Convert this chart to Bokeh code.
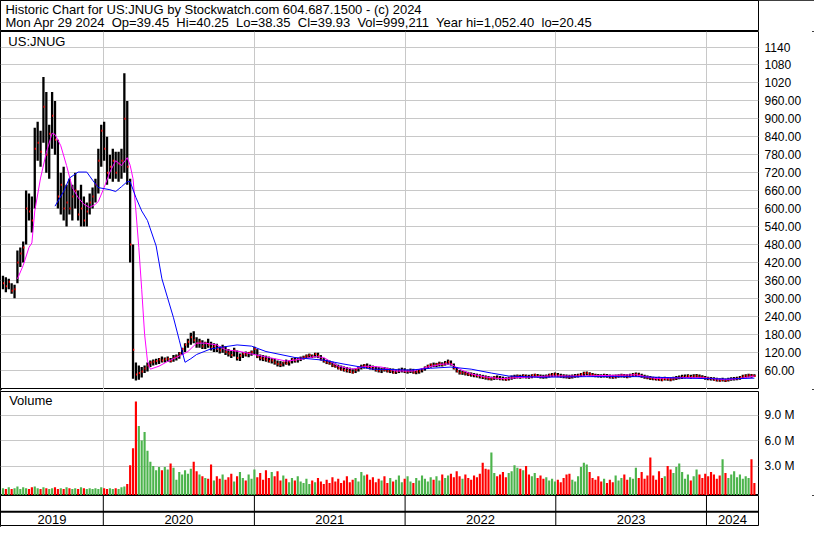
import pandas as pd
from bokeh.plotting import figure
from bokeh.layouts import column
from bokeh.models import Range1d, FixedTicker, Label, Span
from bokeh.embed import file_html
from bokeh.resources import INLINE
from bokeh.core.properties import value

# ---------------- data ----------------
title_line1 = "Historic Chart for US:JNUG by Stockwatch.com 604.687.1500 - (c) 2024"
title_line2 = "Mon Apr 29 2024\u00a0 Op=39.45\u00a0 Hi=40.25\u00a0 Lo=38.35\u00a0 Cl=39.93\u00a0 Vol=999,211\u00a0 Year hi=1,052.40\u00a0 lo=20.45"
symbol = "US:JNUG"
volume_title = "Volume"

first_week = "2019-05-03"   # weekly bars

high = [
    375, 370, 365, 350, 345, 460, 470, 490, 660, 650,
    640, 870, 890, 860, 1040, 990, 880, 990, 960, 830,
    720, 740, 680, 700, 680, 720, 660, 680, 640, 620,
    650, 670, 700, 800, 880, 890, 840, 780, 800, 790,
    790, 800, 1052, 960, 700, 480, 85, 75, 70, 75,
    85, 92, 95, 98, 100, 105, 102, 105, 100, 110,
    112, 120, 135, 150, 165, 185, 190, 170, 165, 160,
    155, 165, 155, 150, 148, 140, 145, 140, 130, 125,
    135, 125, 115, 120, 122, 120, 125, 138, 130, 112,
    110, 108, 105, 100, 98, 92, 90, 88, 95, 92,
    100, 102, 100, 105, 108, 112, 115, 112, 118, 118,
    110, 100, 95, 92, 88, 82, 78, 75, 72, 70,
    68, 65, 66, 72, 78, 80, 82, 78, 75, 72,
    70, 68, 70, 68, 66, 65, 62, 65, 68, 66,
    62, 65, 64, 60, 62, 66, 72, 78, 82, 85,
    84, 88, 86, 90, 95, 92, 82, 70, 60, 58,
    56, 54, 52, 50, 48, 46, 44, 42, 40, 38,
    40, 42, 40, 38, 36, 38, 42, 44, 45, 44,
    46, 45, 44, 46, 48, 47, 45, 44, 45, 48,
    50, 52, 50, 48, 46, 45, 44, 45, 47, 48,
    50, 54, 55, 53, 50, 48, 47, 46, 48, 47,
    45, 44, 45, 46, 48, 47, 46, 48, 50, 52,
    51, 48, 44, 42, 40, 38, 37, 38, 36, 38,
    37, 36, 38, 40, 42, 44, 45, 46, 44, 46,
    47, 45, 43, 40, 38, 37, 36, 34, 33, 34,
    32, 34, 36, 37, 38, 40, 44, 46, 48, 47, 46,
]
low = [
    330, 320, 330, 315, 300, 350, 405, 420, 480, 560,
    520, 600, 760, 740, 820, 720, 700, 800, 780, 600,
    580, 560, 540, 580, 560, 600, 560, 540, 540, 540,
    580, 600, 620, 650, 740, 760, 680, 700, 690, 700,
    690, 700, 720, 680, 420, 31, 25, 28, 35, 50,
    55, 70, 75, 78, 80, 85, 85, 88, 85, 88,
    92, 98, 110, 120, 135, 145, 150, 135, 135, 130,
    130, 135, 125, 120, 120, 115, 118, 110, 105, 100,
    105, 92, 90, 100, 105, 103, 108, 112, 100, 92,
    90, 88, 85, 82, 78, 72, 70, 72, 78, 75,
    82, 85, 85, 90, 95, 98, 100, 100, 102, 100,
    92, 85, 80, 78, 70, 68, 62, 58, 55, 52,
    50, 48, 50, 55, 62, 65, 65, 62, 60, 55,
    52, 50, 55, 52, 50, 48, 47, 50, 52, 50,
    48, 50, 48, 46, 48, 52, 58, 64, 68, 70,
    70, 72, 72, 75, 78, 75, 62, 52, 45, 44,
    42, 40, 38, 36, 35, 32, 30, 28, 26, 25,
    27, 28, 26, 25, 24, 25, 28, 30, 32, 31,
    33, 32, 31, 33, 35, 34, 32, 31, 32, 35,
    37, 38, 36, 34, 33, 32, 30, 32, 34, 35,
    37, 40, 42, 40, 38, 36, 35, 34, 35, 34,
    32, 31, 32, 34, 35, 34, 33, 35, 37, 38,
    37, 34, 31, 29, 27, 26, 25, 24, 23, 25,
    24, 23, 25, 27, 29, 30, 32, 33, 31, 33,
    34, 32, 30, 28, 26, 25, 24, 22, 21, 22,
    20, 22, 24, 25, 26, 28, 31, 33, 35, 34, 38,
]
close = [
    350, 340, 355, 325, 330, 420, 450, 470, 600, 590,
    560, 800, 820, 790, 940, 780, 850, 910, 830, 640,
    680, 600, 620, 600, 640, 660, 580, 600, 560, 590,
    620, 640, 680, 760, 860, 800, 720, 740, 760, 720,
    750, 760, 900, 740, 480, 128, 45, 50, 55, 65,
    75, 85, 88, 90, 95, 92, 96, 98, 90, 100,
    105, 115, 130, 145, 155, 170, 160, 150, 155, 140,
    150, 145, 135, 140, 130, 125, 135, 120, 115, 110,
    125, 100, 108, 115, 112, 118, 120, 130, 105, 100,
    98, 95, 90, 92, 85, 80, 78, 85, 82, 88,
    95, 92, 98, 100, 104, 108, 110, 106, 114, 108,
    95, 90, 85, 82, 75, 72, 66, 62, 60, 58,
    55, 52, 60, 68, 72, 75, 70, 68, 65, 60,
    58, 62, 60, 56, 58, 52, 55, 58, 60, 55,
    56, 58, 52, 54, 56, 62, 68, 74, 78, 76,
    80, 82, 78, 84, 88, 80, 66, 56, 50, 52,
    48, 45, 44, 42, 40, 38, 36, 34, 30, 32,
    35, 33, 31, 30, 28, 32, 36, 38, 40, 38,
    41, 39, 38, 42, 44, 40, 38, 37, 40, 44,
    45, 46, 42, 40, 39, 37, 36, 38, 41, 43,
    46, 49, 50, 47, 44, 42, 41, 40, 42, 39,
    37, 36, 38, 41, 43, 40, 38, 42, 45, 46,
    44, 40, 36, 34, 32, 30, 29, 28, 27, 30,
    29, 28, 31, 33, 35, 37, 38, 40, 37, 39,
    41, 38, 36, 33, 31, 30, 28, 26, 25, 27,
    24, 28, 30, 31, 32, 35, 39, 41, 43, 42, 40,
]
volume_m = [
    0.4, 0.3, 0.5, 0.3, 0.4, 0.6, 0.3, 0.5, 0.4, 0.3,
    0.5, 0.6, 0.4, 0.3, 0.5, 0.4, 0.3, 0.4, 0.5, 0.3,
    0.4, 0.3, 0.5, 0.4, 0.3, 0.4, 0.3, 0.5, 0.4, 0.3,
    0.4, 0.3, 0.4, 0.3, 0.5, 0.4, 0.3, 0.4, 0.3, 0.4,
    0.3, 0.5, 0.6, 0.9, 3.1, 5.1, 10.6, 7.7, 6.0, 7.0,
    4.8, 3.5, 3.0, 2.5, 2.9, 2.5, 2.9, 2.6, 3.3, 2.8,
    1.4, 2.3, 2.0, 2.5, 2.1, 2.7, 3.5, 2.4, 2.0, 1.8,
    1.6, 1.5, 3.2, 1.3, 1.8, 1.5, 2.0, 1.4, 1.7, 2.1,
    1.2, 1.8, 2.3, 1.6, 1.3, 2.0, 1.5, 2.6, 1.7, 2.2,
    1.4, 2.5, 1.6, 2.3, 1.8, 2.4, 1.3, 1.9, 1.5, 1.1,
    1.6, 1.3, 1.8, 1.2, 1.0, 1.5, 0.9, 1.3, 1.1, 1.6,
    1.2, 0.9, 1.4, 1.0, 1.7, 1.2, 1.5, 1.0, 1.3, 1.8,
    1.1, 1.4, 1.6, 1.2, 2.3, 1.9, 2.0, 1.4, 1.7, 1.1,
    1.5, 1.3, 1.8, 1.0, 1.6, 1.2, 1.4, 1.9, 1.1, 1.5,
    1.8, 1.2, 1.0, 1.6, 1.3, 1.9, 1.5, 1.2, 1.7, 1.4,
    1.8, 1.3, 2.0, 1.6, 1.9, 2.1, 1.7, 2.4, 1.8, 1.5,
    2.0, 1.6, 1.4, 1.9, 1.7, 2.1, 3.4, 2.7, 2.6, 4.6,
    2.2, 1.8, 2.0, 2.3, 1.7, 2.2, 2.4, 3.1, 2.8, 2.7,
    2.5, 3.0, 2.0, 1.8, 2.2, 1.6, 1.9, 1.5, 1.7, 1.3,
    1.5, 1.2, 1.4, 1.1, 1.6, 2.0, 2.1, 1.4, 1.2, 1.8,
    2.9, 3.4, 3.2, 2.3, 1.6, 1.4, 1.8, 1.2, 1.5, 1.0,
    1.4, 1.1, 1.9, 1.3, 1.6, 2.0, 1.4, 1.7, 1.5, 2.8,
    1.6, 2.3, 1.5, 1.9, 4.0, 1.9, 1.4, 2.4, 1.6, 1.8,
    3.0, 2.6, 2.2, 2.9, 3.3, 2.3, 1.5, 2.0, 1.3, 1.8,
    2.6, 2.0, 1.6, 2.1, 1.8, 2.3, 2.0, 1.5, 1.9, 3.8,
    2.2, 1.6, 2.0, 2.4, 1.7, 2.0, 1.5, 1.8, 1.6, 3.8, 1.0,
]

# moving averages (week index, value)
ma_short_week = [5, 7, 9, 10, 11, 13, 15, 17, 18, 20, 22, 24, 26, 28, 30, 32, 33, 35, 37, 39,
                 41, 43, 44, 45, 46, 47, 48, 49, 50, 51, 54, 57, 60, 64, 67, 70, 74, 77, 82, 87,
                 92, 98, 103, 108, 111, 116, 121, 126, 131, 136, 142, 147, 152, 155, 158, 162,
                 167, 172, 179, 189, 199, 209, 219, 226, 236, 243, 250, 255, 260]
ma_short_val = [365, 410, 470, 485, 592, 702, 787, 852, 848, 810, 744, 670, 637, 614, 604, 614, 624, 670, 722, 760,
                744, 770, 745, 700, 592, 470, 330, 180, 90, 63, 73, 89, 102, 122, 150, 150, 144, 128, 122, 112,
                102, 90, 96, 105, 102, 73, 63, 73, 70, 57, 57, 70, 80, 80, 63, 47,
                37, 31, 35, 40, 40, 42, 44, 32, 35, 34, 28, 32, 40]
ma_long_week = [18, 21, 23, 26, 29, 31, 33, 37, 39, 41, 43, 44, 46, 48, 50, 53, 55, 57, 59, 61,
                62, 63, 65, 67, 72, 81, 86, 91, 101, 111, 118, 128, 141, 148, 155, 162, 169, 175,
                186, 202, 219, 236, 250, 260]
ma_long_val = [608, 657, 702, 722, 722, 695, 670, 663, 657, 673, 690, 690, 637, 592, 560, 475, 365, 300, 235, 160,
               122, 86, 98, 112, 131, 144, 140, 122, 102, 93, 80, 63, 60, 66, 70, 63, 50, 40,
               36, 38, 38, 33, 30, 33]

price_ticks = [60, 120, 180, 240, 300, 360, 420, 480, 540, 600, 660, 720, 780, 840, 900, 960, 1020, 1080, 1140]
price_tick_labels = ["60.00", "120.00", "180.00", "240.00", "300.00", "360.00", "420.00", "480.00", "540.00",
                     "600.00", "660.00", "720.00", "780.00", "840.00", "900.00", "960.00", "1020", "1080", "1140"]
vol_ticks = [3, 6, 9]
vol_tick_labels = ["3.0 M", "6.0 M", "9.0 M"]
years = ["2019", "2020", "2021", "2022", "2023", "2024"]
year_starts = ["2020-01-01", "2021-01-01", "2022-01-01", "2023-01-01", "2024-01-01"]

# ---------------- derived ----------------
dates = pd.date_range(first_week, periods=len(close), freq="7D")
DAY = 86400000.0
x_start = pd.Timestamp("2019-04-27")
x_end = pd.Timestamp("2024-05-06")
ms = lambda t: pd.Timestamp(t).value / 1e6
bound_ms = [ms(b) for b in year_starts]
edges = [ms(x_start)] + bound_ms + [ms(x_end)]
year_mid = [(edges[k] + edges[k + 1]) / 2 for k in range(len(years))]

vol_colors = ["#4cb44c"] + ["#4cb44c" if close[k] >= close[k - 1] else "#ff0000" for k in range(1, len(close))]

FONT = "Liberation Sans"
GRID = "#c8c8c8"
W = 814
RB = 56
xr = Range1d(x_start, x_end)


def style_right_axis(ax):
    ax.axis_line_color = None
    ax.major_tick_in = 0
    ax.major_tick_out = 0
    ax.minor_tick_in = 0
    ax.minor_tick_out = 0
    ax.major_label_standoff = 6
    ax.major_label_text_font = FONT
    ax.major_label_text_font_size = "12px"
    ax.major_label_text_color = "black"


# ---------------- header ----------------
hdr = figure(width=W, height=31, x_range=Range1d(0, 1), y_range=Range1d(0, 1),
             x_axis_location=None, y_axis_location=None, toolbar_location=None,
             output_backend="svg", min_border=0)
hdr.grid.visible = False
hdr.outline_line_color = "black"
hdr.add_layout(Label(x=0.0065, y=0.72, text=title_line1, text_font=FONT, text_font_size="13px",
                     text_baseline="middle", text_color="black"))
hdr.add_layout(Label(x=0.0065, y=0.29, text=title_line2, text_font=FONT, text_font_size="13px",
                     text_baseline="middle", text_color="black"))

# ---------------- price ----------------
p_lo, p_hi = -5, 1192
p = figure(width=W, height=358, x_range=xr, y_range=Range1d(p_lo, p_hi), x_axis_type="datetime",
           x_axis_location=None, y_axis_location="right", toolbar_location=None, output_backend="svg",
           min_border_left=0, min_border_right=RB, min_border_top=0, min_border_bottom=0)
p.outline_line_color = "black"
p.xgrid.ticker = FixedTicker(ticks=bound_ms)
p.ygrid.ticker = FixedTicker(ticks=price_ticks)
p.grid.grid_line_color = GRID
p.yaxis.ticker = FixedTicker(ticks=price_ticks)
p.yaxis.major_label_overrides = {t: s for t, s in zip(price_ticks, price_tick_labels)}
style_right_axis(p.yaxis[0])

p.segment(x0=dates, y0=low, x1=dates, y1=high, line_color="black", line_width=2.3)
p.segment(x0=dates, y0=close, x1=dates + pd.Timedelta(days=3), y1=close, line_color="#ff0000", line_width=2)
p.line(x=dates[ma_short_week], y=ma_short_val, line_color="#ff00ff", line_width=1)
p.line(x=dates[ma_long_week], y=ma_long_val, line_color="#0000ff", line_width=1)
p.add_layout(Label(x=ms(x_start) + 19 * DAY, y=1160, text=symbol, text_font=FONT, text_font_size="13px",
                   text_baseline="middle", text_color="black"))

# ---------------- volume ----------------
v_lo, v_hi = -0.46, 11.77
v = figure(width=W, height=106, x_range=xr, y_range=Range1d(v_lo, v_hi), x_axis_type="datetime",
           x_axis_location=None, y_axis_location="right", toolbar_location=None, output_backend="svg",
           min_border_left=0, min_border_right=RB, min_border_top=2, min_border_bottom=0)
v.outline_line_color = "black"
v.xgrid.ticker = FixedTicker(ticks=bound_ms)
v.ygrid.ticker = FixedTicker(ticks=vol_ticks)
v.grid.grid_line_color = GRID
v.yaxis.ticker = FixedTicker(ticks=vol_ticks)
v.yaxis.major_label_overrides = {t: s for t, s in zip(vol_ticks, vol_tick_labels)}
style_right_axis(v.yaxis[0])
v.vbar(x=dates, top=volume_m, bottom=v_lo, width=5.2 * DAY, fill_color=vol_colors, line_color=None)
v.add_layout(Label(x=ms(x_start) + 21 * DAY, y=10.7, text=volume_title, text_font=FONT, text_font_size="13px",
                   text_baseline="middle", text_color="black"))

# ---------------- years strip ----------------
yr = figure(width=W, height=32, x_range=xr, y_range=Range1d(0, 1), x_axis_type="datetime",
            x_axis_location=None, y_axis_location=None, toolbar_location=None, output_backend="svg",
            min_border_left=0, min_border_right=RB, min_border_top=0, min_border_bottom=2)
yr.grid.visible = False
yr.outline_line_color = "black"
yr.segment(x0=bound_ms, y0=0, x1=bound_ms, y1=1, line_color="black", line_width=1)
yr.add_layout(Span(location=0.46, dimension="width", line_color="black", line_width=2))
yr.text(x=year_mid, y=[0.2] * len(years), text=years, text_font=value(FONT), text_font_size="13px",
        text_align="center", text_baseline="middle", text_color="black")

layout = column(hdr, p, v, yr, spacing=0,
                styles={"outline": "2px solid black", "outline-offset": "-2px"})

open("out.html", "w").write(file_html(layout, INLINE))
